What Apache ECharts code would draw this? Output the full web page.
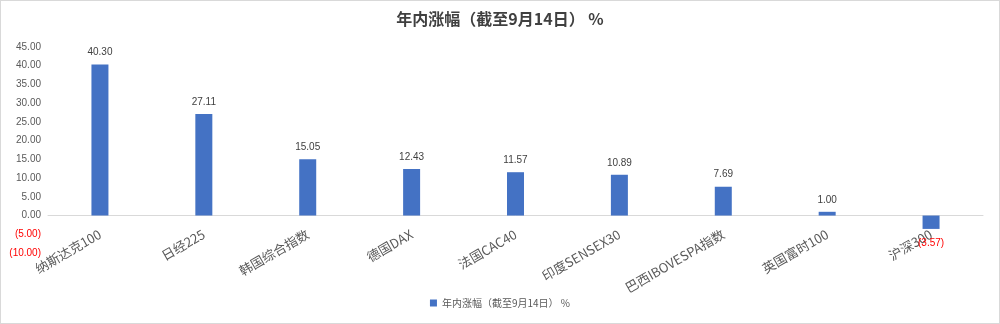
<!DOCTYPE html>
<html><head><meta charset="utf-8">
<script src="https://cdn.jsdelivr.net/npm/echarts@6/dist/echarts.min.js"></script>
<style>html,body{margin:0;padding:0;background:#fff}#c{position:absolute;left:0;top:0;width:998px;height:322px;border:1px solid #d9d9d9}</style>
</head><body><div id="c"></div>
<script>
const categories = ['纳斯达克100','日经225','韩国综合指数','德国DAX','法国CAC40','印度SENSEX30','巴西IBOVESPA指数','英国富时100','沪深300'];
const values = [40.30, 27.11, 15.05, 12.43, 11.57, 10.89, 7.69, 1.00, -3.57];
const seriesName = '年内涨幅（截至9月14日） %';
const yMin = -10, yMax = 45, yStep = 5;

function fmt(v){ const s = Math.abs(v).toFixed(2); return v < 0 ? '(' + s + ')' : s; }

const chart = echarts.init(document.getElementById('c'));
chart.setOption({
  animation: false,
  title: { text: seriesName, left: 'center', top: 5,
    textStyle: { fontSize: 16, fontWeight: 'bold', color: '#404040', fontFamily: 'Noto Sans CJK SC' } },
  legend: { bottom: 10, itemWidth: 7, itemHeight: 7, icon: 'rect',
    textStyle: { fontSize: 10, color: '#595959', fontFamily: 'Noto Sans CJK SC' }, data: [seriesName] },
  grid: { left: 47, right: 16, top: 46, bottom: 70 },
  xAxis: { type: 'category', data: categories, position: 'bottom', offset: -38,
    axisLine: { onZero: false, lineStyle: { color: '#d9d9d9' } },
    axisTick: { show: false },
    axisLabel: { rotate: 30, interval: 0, fontSize: 13, color: '#595959', fontFamily: 'Noto Sans CJK SC', margin: 18 } },
  yAxis: { type: 'value', min: yMin, max: yMax, interval: yStep,
    splitLine: { show: false }, axisLine: { show: false }, axisTick: { show: false },
    axisLabel: { fontSize: 10, margin: 7, fontFamily: 'Liberation Sans',
      formatter: v => v < 0 ? '{r|' + fmt(v) + '}' : '{g|' + fmt(v) + '}',
      rich: { r: { color: '#ff0000', fontSize: 10 }, g: { color: '#595959', fontSize: 10 } } } },
  series: [{
    name: seriesName, type: 'bar', barWidth: 17,
    itemStyle: { color: '#4472C4' },
    data: values.map(v => ({ value: v, label: v < 0 ? { position: 'bottom', distance: 9, color: '#ff0000' } : {} })),
    label: { show: true, position: 'top', distance: 7, fontSize: 10, color: '#404040', fontFamily: 'Liberation Sans',
      formatter: p => fmt(p.value) }
  }]
});
</script></body></html>
